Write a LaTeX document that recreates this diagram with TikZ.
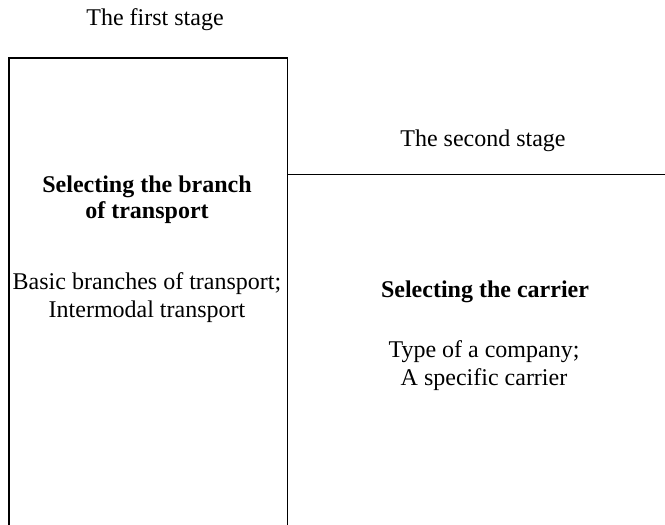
\documentclass[tikz,border=0pt]{standalone}
\usepackage{fontspec}
\setmainfont{Liberation Serif}
\usetikzlibrary{positioning}

\begin{document}
\begin{tikzpicture}[x=1pt, y=-1pt,
    stage/.style={font=\fontsize{24}{27.5}\selectfont, align=center, inner sep=0pt, anchor=base},
    title/.style={stage, font=\fontsize{24}{26}\selectfont\bfseries}]
	\useasboundingbox (0, 0) rectangle (665, 525);

	\coordinate (LT) at (9, 58);
	\coordinate (RT) at (287.5, 58);
	\coordinate (LB) at (9, 525);
	\coordinate (RB) at (287.5, 525);
	\coordinate (ST) at (287.5, 174.5);
	\coordinate (SE) at (665, 174.5);

	% first stage
	\draw [line width=1.8pt] (LB) -- (LT) -- (RT) -- (RB);
	\node [stage] (stage1) at (155, 25) {The first stage};
	\node [title] (branch) at (147, 218) {Selecting the branch\\of transport};
	\node [stage] (branchs) at (147, 317) {Basic branches of transport;\\Intermodal transport};

	% second stage
	\draw [line width=1.8pt] (ST) -- (SE);
	\node [stage] (stage2) at (483, 146) {The second stage};
	\node [title] (carrier) at (485, 297) {Selecting the carrier};
	\node [stage] (carriers) at (484, 385) {Type of a company;\\A specific carrier};
\end{tikzpicture}
\end{document}
